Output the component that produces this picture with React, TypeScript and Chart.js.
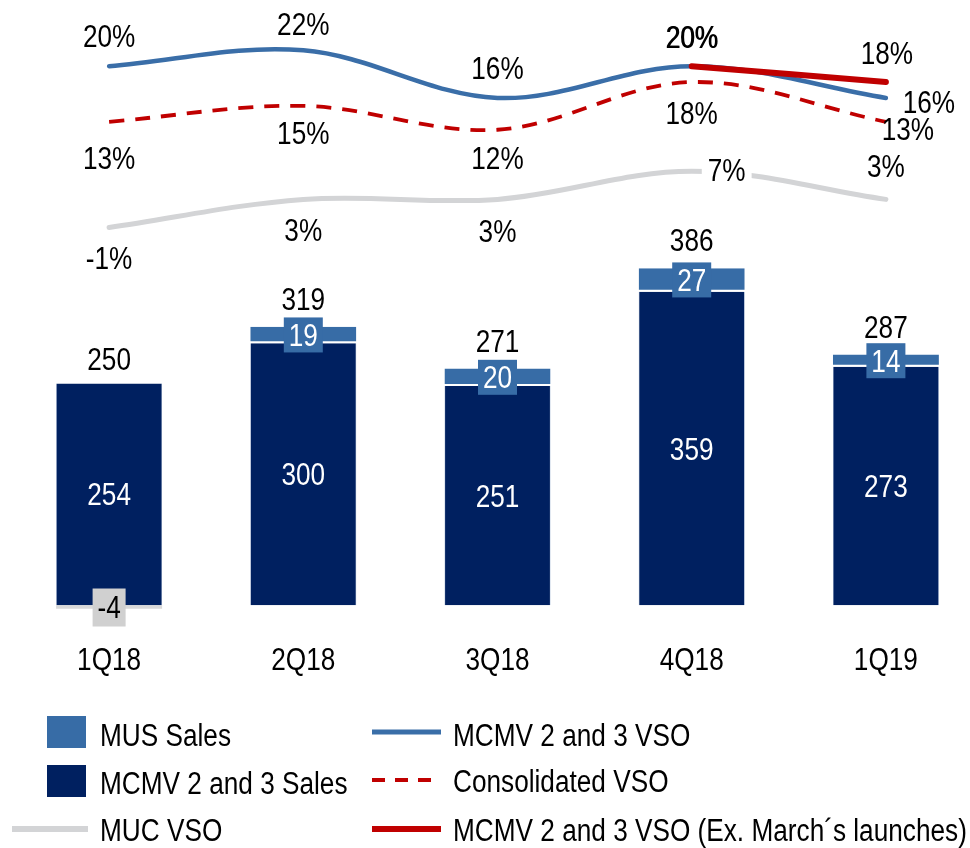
import React, { useEffect, useRef } from "react";
import { Chart, registerables } from "chart.js";
Chart.register(...registerables);

// ---------- data ----------
const categories = ["1Q18", "2Q18", "3Q18", "4Q18", "1Q19"];
const mcmvSales = [254, 300, 251, 359, 273];
const musSales = [null, 19, 20, 27, 14];
const mucSales = [-4, null, null, null, null];
const mcmvVso = [20, 22, 16, 20, 16];
const consolidatedVso = [13, 15, 12, 18, 13];
const mucVso = [-1, 3, 3, 7, 3];
const mcmvVsoExMarch = [null, null, null, 20, 18];

// ---------- styles ----------
const FONT = "'Liberation Sans', Arial, sans-serif";
const FS = 31;
const SX = 0.845; // horizontal condensing (Arial Narrow look)
const NAVY = "#002060";
const MUS_BLUE = "#376CA6";
const LINE_BLUE = "#3A6EA8";
const RED = "#C00000";
const LIGHT_GRAY = "#D3D4D6";
const BOX_GRAY = "#D0D0D0";

// label offsets (pixels, relative to each point)
const OFF_BLUE = [[0, -30], [0, -26], [0, -30], [0, -29.5], [43, 3.5]];
const OFF_RED = [null, null, null, [0.7, -29.5], [1, -29]];
const OFF_DASH = [[0, 36], [0, 27], [0, 28.5], [0, 31], [22, 7.5]];
const OFF_GRAY = [[0, 30.5], [0, 31], [0, 31.5], [35, -1.3], [0, -33]];
const GRAY_BG = [false, false, false, true, false];

function drawText(
  ctx: CanvasRenderingContext2D,
  text: string,
  x: number,
  cy: number,
  color: string,
  align: CanvasTextAlign = "center"
) {
  ctx.save();
  ctx.font = `${FS}px ${FONT}`;
  ctx.fillStyle = color;
  ctx.textAlign = align;
  ctx.textBaseline = "alphabetic";
  ctx.translate(x, cy + FS * 0.358);
  ctx.scale(SX, 1);
  ctx.fillText(text, 0, 0);
  ctx.restore();
}

function textWidth(ctx: CanvasRenderingContext2D, text: string) {
  ctx.save();
  ctx.font = `${FS}px ${FONT}`;
  const w = ctx.measureText(text).width * SX;
  ctx.restore();
  return w;
}

const labelPlugin = {
  id: "customLabels",
  afterDatasetsDraw(chart: any) {
    const ctx: CanvasRenderingContext2D = chart.ctx;
    ctx.save();
    const metaOf = (label: string) => {
      const idx = chart.data.datasets.findIndex((d: any) => d.label === label);
      return { meta: chart.getDatasetMeta(idx), data: chart.data.datasets[idx].data };
    };
    // line labels
    const lineLabel = (label: string, offs: any[], bgs?: boolean[]) => {
      const { meta, data } = metaOf(label);
      data.forEach((v: any, i: number) => {
        if (v === null || !offs[i]) return;
        const p = meta.data[i];
        const cx = p.x + offs[i][0];
        const cy = p.y + offs[i][1];
        const t = `${v}%`;
        if (bgs && bgs[i]) {
          const w = textWidth(ctx, t);
          ctx.fillStyle = "#fff";
          ctx.fillRect(cx - w / 2 - 6, cy - 14, w + 12, 28);
        }
        drawText(ctx, t, cx, cy, "#000");
      });
    };
    lineLabel("MUC VSO", OFF_GRAY, GRAY_BG);
    lineLabel("Consolidated VSO", OFF_DASH);
    lineLabel("MCMV 2 and 3 VSO", OFF_BLUE);
    lineLabel("MCMV 2 and 3 VSO (Ex. March\u00b4s launches)", OFF_RED);

    // bar labels
    const navy = metaOf("MCMV 2 and 3 Sales");
    navy.data.forEach((v: any, i: number) => {
      if (v === null) return;
      const b = navy.meta.data[i];
      drawText(ctx, String(v), b.x, (b.y + b.base) / 2, "#fff");
    });
    const mus = metaOf("MUS Sales");
    mus.data.forEach((v: any, i: number) => {
      if (v === null) return;
      const b = mus.meta.data[i];
      const cy = (b.y + b.base) / 2;
      ctx.fillStyle = MUS_BLUE;
      ctx.fillRect(b.x - 19.5, cy - 17.5, 39, 35);
      drawText(ctx, String(v), b.x, cy, "#fff");
    });
    const muc = metaOf("MUC Sales");
    muc.data.forEach((v: any, i: number) => {
      if (v === null) return;
      const b = muc.meta.data[i];
      const cy = (b.y + b.base) / 2;
      ctx.fillStyle = BOX_GRAY;
      ctx.fillRect(b.x - 16.5, cy - 18.5, 33, 38);
      drawText(ctx, String(v), b.x, cy, "#000");
    });
    // totals
    const yScale = chart.scales.y;
    categories.forEach((_, i) => {
      const total = (mcmvSales[i] || 0) + (musSales[i] || 0) + (mucSales[i] || 0);
      const x = navy.meta.data[i].x;
      drawText(ctx, String(total), x, yScale.getPixelForValue(total) - 28, "#000");
    });
    // category labels
    const xScale = chart.scales.x;
    categories.forEach((c, i) => {
      drawText(ctx, c, xScale.getPixelForValue(i), 658.5, "#000");
    });
    ctx.restore();
  },
  afterDraw(chart: any) {
    const ctx: CanvasRenderingContext2D = chart.ctx;
    ctx.save();
    const txt = (t: string, x: number, cy: number) => drawText(ctx, t, x, cy, "#000", "left");
    // column 1
    ctx.fillStyle = MUS_BLUE;
    ctx.fillRect(47, 716, 39, 32);
    txt("MUS Sales", 100, 735);
    ctx.fillStyle = NAVY;
    ctx.fillRect(47, 765, 39, 32);
    txt("MCMV 2 and 3 Sales", 100, 783);
    ctx.strokeStyle = LIGHT_GRAY;
    ctx.lineWidth = 6;
    ctx.beginPath();
    ctx.moveTo(12, 829);
    ctx.lineTo(88, 829);
    ctx.stroke();
    txt("MUC VSO", 100, 830);
    // column 2
    ctx.strokeStyle = LINE_BLUE;
    ctx.lineWidth = 5;
    ctx.beginPath();
    ctx.moveTo(372, 732);
    ctx.lineTo(441, 732);
    ctx.stroke();
    txt("MCMV 2 and 3 VSO", 453, 735);
    ctx.strokeStyle = RED;
    ctx.lineWidth = 4;
    ctx.setLineDash([13, 10]);
    ctx.beginPath();
    ctx.moveTo(372, 780);
    ctx.lineTo(441, 780);
    ctx.stroke();
    ctx.setLineDash([]);
    txt("Consolidated VSO", 453, 781);
    ctx.lineWidth = 6;
    ctx.beginPath();
    ctx.moveTo(372, 829);
    ctx.lineTo(441, 829);
    ctx.stroke();
    txt("MCMV 2 and 3 VSO (Ex. March\u00b4s launches)", 453, 830);
    ctx.restore();
  },
};

export default function App() {
  const ref = useRef<HTMLCanvasElement>(null);
  useEffect(() => {
    if (!ref.current) return;
    const chart = new Chart(ref.current, {
      data: {
        labels: categories,
        datasets: [
          {
            type: "line",
            label: "MCMV 2 and 3 VSO (Ex. March\u00b4s launches)",
            data: mcmvVsoExMarch,
            yAxisID: "yL",
            borderColor: RED,
            borderWidth: 6,
            borderCapStyle: "round",
            pointRadius: 0,
            tension: 0.35,
            order: 0,
          },
          {
            type: "line",
            label: "MCMV 2 and 3 VSO",
            data: mcmvVso,
            yAxisID: "yL",
            borderColor: LINE_BLUE,
            borderWidth: 4.5,
            borderCapStyle: "round",
            pointRadius: 0,
            tension: 0.35,
            order: 1,
          },
          {
            type: "line",
            label: "Consolidated VSO",
            data: consolidatedVso,
            yAxisID: "yL",
            borderColor: RED,
            borderWidth: 3.8,
            borderDash: [15, 11],
            pointRadius: 0,
            tension: 0.35,
            order: 2,
          },
          {
            type: "line",
            label: "MUC VSO",
            data: mucVso,
            yAxisID: "yG",
            borderColor: LIGHT_GRAY,
            borderWidth: 5,
            borderCapStyle: "round",
            pointRadius: 0,
            tension: 0.35,
            order: 3,
          },
          {
            type: "bar",
            label: "MCMV 2 and 3 Sales",
            data: mcmvSales,
            yAxisID: "y",
            backgroundColor: NAVY,
            borderColor: "#8FA6C8",
            borderWidth: { left: 0.6, right: 0.6, top: 0, bottom: 0 },
            borderSkipped: false,
            stack: "s",
            order: 4,
          },
          {
            type: "bar",
            label: "MUS Sales",
            data: musSales,
            yAxisID: "y",
            backgroundColor: MUS_BLUE,
            borderColor: "#ffffff",
            borderWidth: { left: 0, right: 0, top: 0, bottom: 2 },
            borderSkipped: false,
            stack: "s",
            order: 5,
          },
          {
            type: "bar",
            label: "MUC Sales",
            data: mucSales,
            yAxisID: "y",
            backgroundColor: "#D9D9D9",
            borderWidth: 0,
            stack: "s",
            order: 6,
          },
        ] as any,
      },
      options: {
        animation: false,
        responsive: false,
        devicePixelRatio: 1,
        events: [],
        layout: { padding: { left: 12, right: 0, top: 0, bottom: 174 } },
        plugins: { legend: { display: false }, tooltip: { enabled: false } },
        datasets: { bar: { categoryPercentage: 1, barPercentage: 0.546 } },
        scales: {
          x: {
            stacked: true,
            grid: { display: false, drawTicks: false },
            border: { display: false },
            ticks: { display: false },
            afterFit: (s: any) => {
              s.height = 60;
            },
          },
          y: {
            stacked: true,
            min: -10,
            max: 693,
            display: true,
            ticks: { display: false, stepSize: 100 },
            border: { display: false },
            grid: {
              drawTicks: false,
              lineWidth: 1.5,
              color: (c: any) => (c.tick && c.tick.value === 0 ? "#222" : "rgba(0,0,0,0)"),
            },
            afterFit: (s: any) => {
              s.width = 0;
            },
          },
          yL: { display: false, min: -48.91, max: 28.32 },
          yG: { display: false, min: -55.93, max: 31.34 },
        },
      } as any,
      plugins: [labelPlugin],
    });
    return () => chart.destroy();
  }, []);
  return (
    <div style={{ position: "absolute", left: 0, top: 0, width: 970, height: 848, overflow: "hidden", background: "#fff" }}>
      <canvas ref={ref} width={983} height={848} style={{ display: "block" }} />
    </div>
  );
}
